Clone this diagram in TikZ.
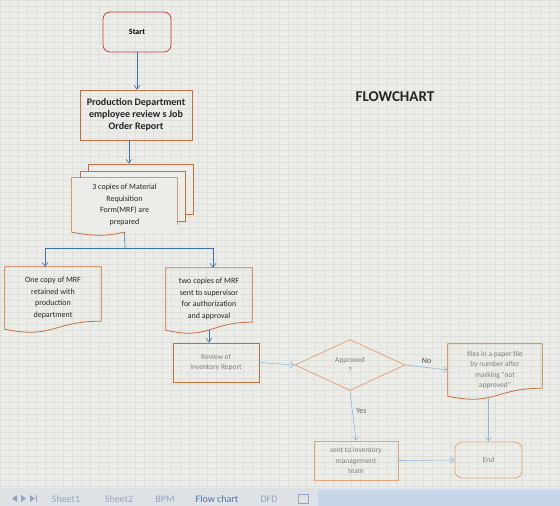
\documentclass[tikz,border=0pt]{standalone}
\usepackage{fontspec}
\setmainfont{Carlito}
\usepackage{tikz}
\usetikzlibrary{shapes.geometric, arrows.meta, positioning, calc}
\definecolor{sheetbg}{RGB}{236,237,233}
\definecolor{gridgray}{RGB}{222,224,219}
\definecolor{startred}{RGB}{205,62,58}
\definecolor{boxorange}{RGB}{196,112,62}
\definecolor{paleorange}{RGB}{226,165,122}
\definecolor{linkblue}{RGB}{62,112,176}
\definecolor{paleblue}{RGB}{145,182,218}
\definecolor{tabblue}{RGB}{72,112,172}
\definecolor{tabgray}{RGB}{150,165,188}
\definecolor{barbg}{RGB}{222,226,230}
\definecolor{scrollbg}{RGB}{196,214,232}

\begin{document}
\begin{tikzpicture}[
    x=1pt, y=-1pt,
    darktext/.style={font=\fontsize{8}{11.5}\selectfont, text=black!85},
    paletext/.style={font=\fontsize{7.5}{10.5}\selectfont, text=black!50},
    terminal/.style={rectangle, rounded corners=7pt, draw=#1, thick, align=center},
    process/.style={rectangle, draw=#1, thick, align=center, inner sep=1pt},
    decision/.style={diamond, draw=#1, thick, align=center, inner sep=0pt},
    page/.style={rectangle, draw=boxorange, thick, fill=sheetbg, inner sep=0pt},
    document/.style={rectangle, align=center, inner sep=1pt,
        append after command={\pgfextra{
            \draw[#1, thick] (\tikzlastnode.north west) -- (\tikzlastnode.north east)
                -- ([yshift=8pt]\tikzlastnode.south east)
                .. controls ([yshift=8pt]\tikzlastnode.south) and ([yshift=-10pt]\tikzlastnode.south)
                .. (\tikzlastnode.south west) -- cycle;}}},
    arrow/.style={-{Straight Barb[length=4pt,width=6pt]}, linkblue, semithick},
    palearrow/.style={-{Straight Barb[length=4pt,width=6pt]}, paleblue, semithick},
    sheettab/.style={font=\fontsize{10}{12}\selectfont, text=tabgray}
]

% Sheet background
\useasboundingbox (0,0) rectangle (560,506);
\fill[sheetbg] (0,0) rectangle (560,506);
\draw[gridgray, very thin, xstep=9pt, ystep=6pt] (0,0) grid (560,488);

% Title
\node[font=\bfseries\fontsize{15}{18}\selectfont, text=black!85] (title) at (395,97) {FLOWCHART};

% Start and job order
\node[terminal=startred, minimum width=68pt, minimum height=40pt, font=\bfseries\fontsize{8}{10}\selectfont] (start) at (137,32) {Start};
\node[process=boxorange, darktext, font=\bfseries, minimum width=112pt, minimum height=50pt] (jobreport) at (136,115) {Production Department\\employee review s Job\\Order Report};

% MRF copies
\node[page, minimum width=105pt, minimum height=50pt] (mrfback) at (140.5,189) {};
\node[page, minimum width=105pt, minimum height=50pt] (mrfmid) at (132.5,196) {};
\node[document=boxorange, darktext, fill=sheetbg, minimum width=105pt, minimum height=54pt] (mrf) at (124.5,205) {3 copies of Material\\Requisition\\Form(MRF) are\\prepared};

% Split
\coordinate (split) at (125,248);
\node[document=boxorange, darktext, minimum width=96pt, minimum height=62pt] (keepcopy) at (53,298) {One copy of MRF\\retained with\\production\\department};
\node[document=boxorange, darktext, minimum width=86pt, minimum height=62pt] (supcopy) at (209,299) {two copies of MRF\\sent to supervisor\\for authorization\\and approval};

% Review and decision
\node[process=boxorange, paletext, minimum width=86pt, minimum height=39pt] (invreview) at (216,362.5) {Review of\\Inventory Report};
\node[decision=paleorange, paletext, minimum width=110pt, minimum height=51pt] (approved) at (350,365) {Approved\\?};
\node[document=boxorange, paletext, minimum width=94pt, minimum height=52pt] (filed) at (495,370) {files in a paper file\\by number after\\marking "not\\approved"};
\node[process=paleorange, paletext, minimum width=84pt, minimum height=39pt] (invteam) at (356,460.5) {sent to inventory\\management\\team};
\node[terminal=paleorange, paletext, minimum width=67pt, minimum height=36pt] (finish) at (488.5,460) {End};

% Arrows
\draw[arrow] (start.south) -- (start.south |- jobreport.north);
\draw[arrow] ([xshift=-7pt]jobreport.south) -- ([xshift=-7pt]jobreport.south |- mrfback.north);
\draw[linkblue, semithick] (mrf.south) -- (split);
\draw[arrow] (split) -| ([xshift=-8pt]keepcopy.north);
\draw[arrow] (split) -| ([xshift=4pt]supcopy.north);
\draw[arrow] (supcopy.south) -- (supcopy.south |- invreview.north);
\draw[palearrow] (invreview.east) -- (approved.west);
\draw[palearrow] (approved.east) -- node[above, darktext, text=black!70] {No} (filed.west);
\draw[palearrow] (approved.south) -- node[pos=0.4, right, darktext, text=black!60] {Yes} (invteam.north);
\draw[palearrow] (finish.north |- filed.south) -- (finish.north);
\draw[palearrow] (invteam.east) -- (finish.west);

% Sheet tabs
\fill[barbg] (0,488) rectangle (560,506);
\fill[scrollbg] (318,490) rectangle (560,506);
\fill[tabgray] (17,495) -- (12,498.5) -- (17,502) -- cycle;
\fill[tabgray] (21,495) -- (26,498.5) -- (21,502) -- cycle;
\fill[tabgray] (30,495) -- (35,498.5) -- (30,502) -- cycle;
\fill[tabgray] (35.5,495) rectangle (37,502);
\node[sheettab] (sheetone) at (66,499) {Sheet1};
\node[sheettab] (sheettwo) at (119,499) {Sheet2};
\node[sheettab] (bpmtab) at (165,499) {BPM};
\node[sheettab, text=tabblue] (flowtab) at (217,499) {Flow chart};
\node[sheettab] (dfdtab) at (269,499) {DFD};
\draw[tabgray, thin] (298,494) rectangle (308,503);

\end{tikzpicture}
\end{document}
